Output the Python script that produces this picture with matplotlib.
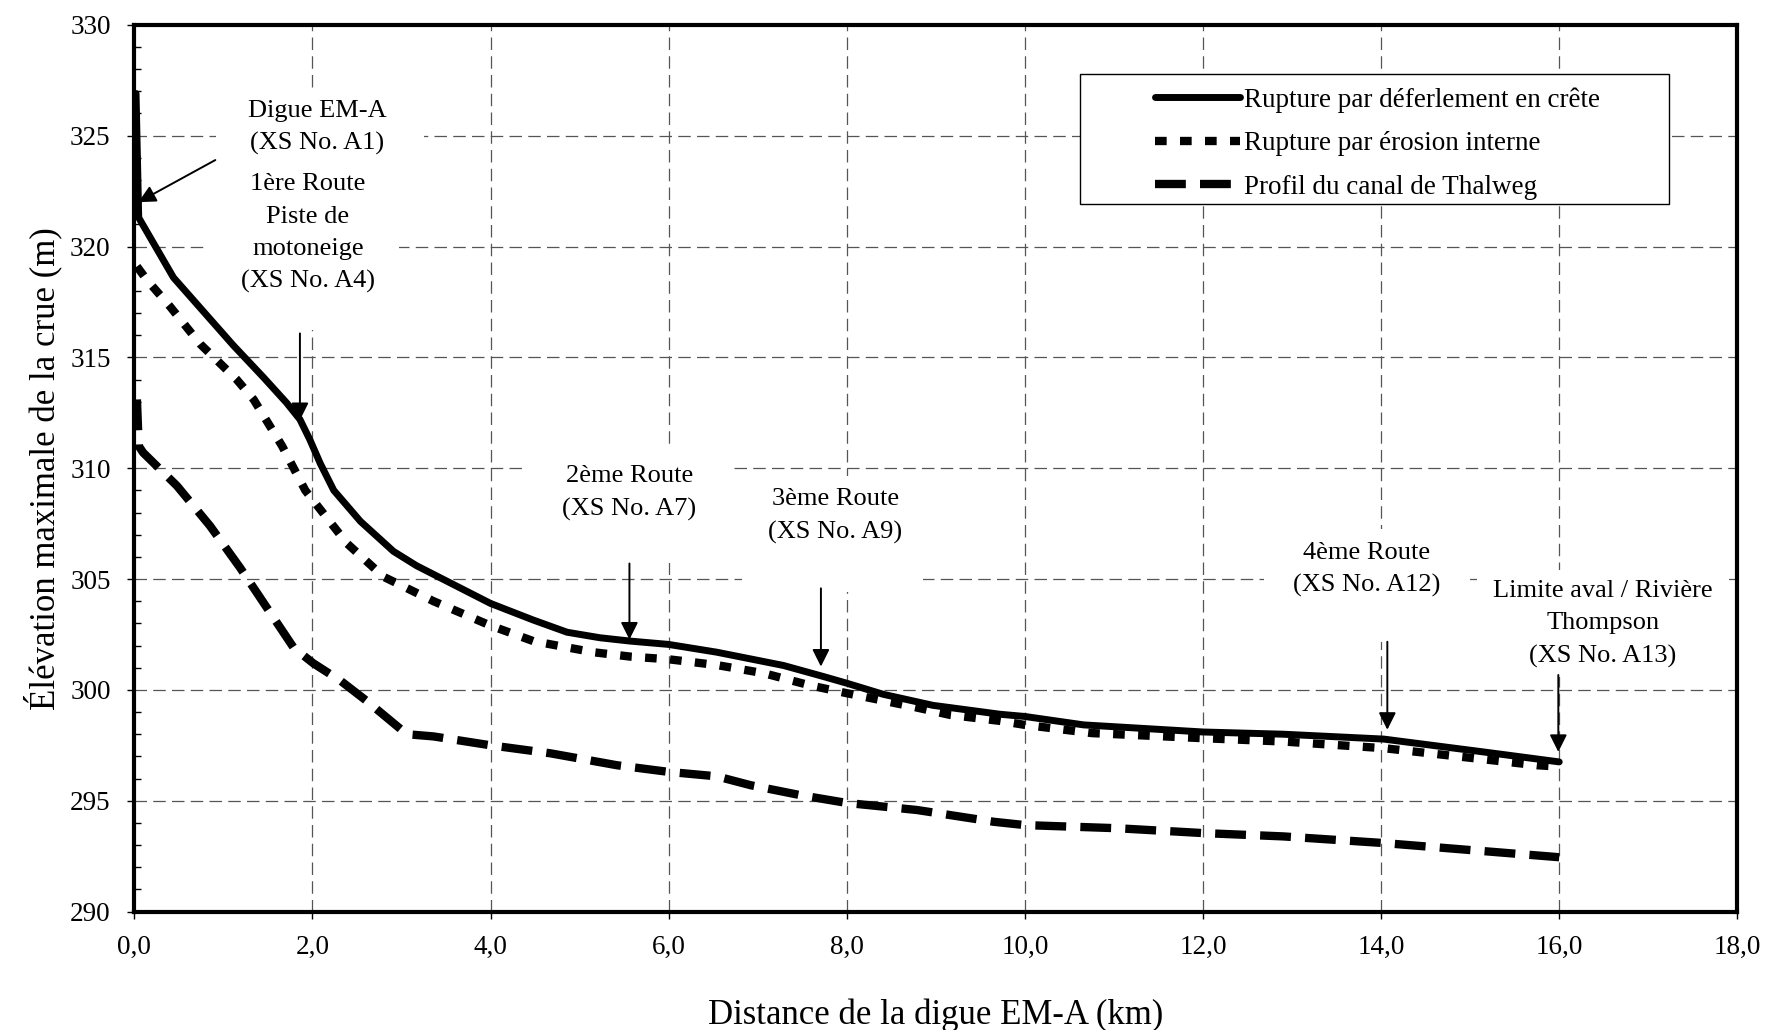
import matplotlib
matplotlib.use("Agg")
import matplotlib.pyplot as plt
from matplotlib.patches import Rectangle
from matplotlib.path import Path
from matplotlib.ticker import MultipleLocator, FuncFormatter

plt.rcParams['font.family'] = ['Liberation Serif', 'DejaVu Serif']

# --- Data: distance from the EM-A dike (km) and maximum flood elevation (m) ---
x_deferlement = [0.02, 0.05, 0.44, 1.11, 1.45, 1.71, 1.86, 1.97, 2.09, 2.24, 2.54, 2.91, 3.17,
                 4.00, 4.48, 4.86, 5.23, 5.57, 6.00, 6.54, 7.29, 7.74, 8.00, 8.41,
                 8.97, 9.16, 9.72, 10.00, 10.66, 12.00, 12.90, 14.03, 15.15, 16.00]
y_deferlement = [326.9, 321.3, 318.6, 315.55, 314.1, 312.95, 312.2, 311.3, 310.2, 309.0, 307.6, 306.25, 305.6,
                 303.9, 303.15, 302.6, 302.35, 302.2, 302.05, 301.7, 301.1, 300.6, 300.3, 299.8,
                 299.3, 299.2, 298.9, 298.8, 298.42, 298.1, 298.0, 297.78, 297.2, 296.75]

x_erosion = [0.03, 0.14, 0.40, 0.74, 1.15, 1.34, 1.66, 1.92, 2.39, 2.80, 3.36, 4.00,
             4.48, 5.15, 5.57, 6.00, 6.54, 7.07, 7.59, 8.00, 8.79, 9.16, 9.72, 10.00,
             10.75, 12.00, 12.90, 14.03, 15.75, 15.95]
y_erosion = [319.1, 318.5, 317.3, 315.6, 314.0, 313.1, 311.0, 309.0, 306.6, 305.1, 304.0, 302.9,
             302.2, 301.7, 301.5, 301.38, 301.12, 300.75, 300.2, 299.85, 299.2, 298.87, 298.6, 298.42,
             298.05, 297.82, 297.67, 297.37, 296.6, 296.55]

x_thalweg = [0.03, 0.05, 0.10, 0.48, 0.85, 1.19, 1.49, 1.79, 2.01, 2.32, 2.61, 3.06,
             3.36, 4.00, 4.67, 5.42, 6.00, 6.54, 6.92, 7.48, 8.00, 8.79, 9.65, 10.00,
             11.03, 12.00, 12.90, 14.03, 16.00]
y_thalweg = [313.1, 311.0, 310.7, 309.2, 307.4, 305.5, 303.7, 301.9, 301.2, 300.4, 299.5, 298.0,
             297.9, 297.5, 297.14, 296.6, 296.3, 296.1, 295.7, 295.25, 294.9, 294.58, 294.05, 293.9,
             293.76, 293.54, 293.39, 293.09, 292.45]

series_labels = ["Rupture par déferlement en crête",
                 "Rupture par érosion interne",
                 "Profil du canal de Thalweg"]

# Cross-section annotations: text, text anchor (x, top y), arrow tail, arrow tip
annot_texts = ["Digue EM-A\n(XS No. A1)",
               "1ère Route\nPiste de\nmotoneige\n(XS No. A4)",
               "2ème Route\n(XS No. A7)",
               "3ème Route\n(XS No. A9)",
               "4ème Route\n(XS No. A12)",
               "Limite aval / Rivière\nThompson\n(XS No. A13)"]
annot_xy = [(2.055, 326.63), (1.95, 323.30), (5.56, 310.14),
            (7.87, 309.09), (13.84, 306.68), (16.49, 304.96)]

arrow_tails = [(0.91, 323.9), (1.86, 316.08), (5.56, 305.7),
               (7.71, 304.58), (14.07, 302.17), (15.99, 300.67)]
arrow_tips = [(0.046, 322.0), (1.86, 312.17), (5.56, 302.27),
              (7.71, 301.05), (14.07, 298.2), (15.99, 297.2)]

x_ticks = [0, 2, 4, 6, 8, 10, 12, 14, 16, 18]
y_ticks = [290, 295, 300, 305, 310, 315, 320, 325, 330]


def padded_box(left, right, top, bottom):
    """White label box with separate padding on each side (in font-size units)."""
    def style(x0, y0, width, height, mutation_size):
        l = left * mutation_size
        r = right * mutation_size
        t = top * mutation_size
        b = bottom * mutation_size
        xa, xb = x0 - l, x0 + width + r
        ya, yb = y0 - b, y0 + height + t
        return Path([(xa, ya), (xb, ya), (xb, yb), (xa, yb), (xa, ya)], closed=True)
    return style


box_pads = [(1.2, 1.4, 0.4, 0.3), (1.3, 0.9, 0.3, 1.4), (1.3, 1.3, 0.7, 1.6),
            (1.0, 0.8, 0.5, 1.8), (1.1, 1.1, 0.5, 1.7), (0.6, 0.6, 0.4, 0.35)]

fig = plt.figure(figsize=(17.69, 10.30), dpi=100)
ax = fig.add_axes([0.0759, 0.1150, 0.9062, 0.8609])

ax.plot(x_thalweg, y_thalweg, color='black', lw=6, linestyle=(0, (3.7, 1.7)),
        dash_capstyle='butt', zorder=3, label=series_labels[2])
ax.plot(x_erosion, y_erosion, color='black', lw=6, linestyle=(0, (1.4, 1.6)),
        dash_capstyle='butt', zorder=3, label=series_labels[1])
ax.plot(x_deferlement, y_deferlement, color='black', lw=5, solid_capstyle='round',
        solid_joinstyle='round', zorder=4, label=series_labels[0])

ax.set_xlim(0, 18)
ax.set_ylim(290, 330)
ax.xaxis.set_major_locator(MultipleLocator(2))
ax.yaxis.set_major_locator(MultipleLocator(5))
ax.yaxis.set_minor_locator(MultipleLocator(1))
ax.set_xticks(x_ticks)
ax.set_yticks(y_ticks)
ax.xaxis.set_major_formatter(FuncFormatter(lambda v, p: f"{v:.1f}".replace('.', ',')))
ax.yaxis.set_major_formatter(FuncFormatter(lambda v, p: f"{v:.0f}"))

ax.tick_params(axis='both', which='major', direction='out', length=5, width=1,
               labelsize=19.5, color='black')
ax.tick_params(axis='x', which='major', pad=12)
ax.tick_params(axis='y', which='major', pad=12)
ax.tick_params(axis='y', which='minor', direction='in', length=5, width=1, color='black')

for sp in ax.spines.values():
    sp.set_linewidth(3)
    sp.set_color('black')

ax.set_axisbelow(True)
ax.grid(True, which='major', color='#555555', lw=0.9, linestyle=(0, (10, 5)))

ax.set_xlabel("Distance de la digue EM-A (km)", fontsize=25)
ax.xaxis.set_label_coords(0.5, -0.098)
ax.set_ylabel("Élévation maximale de la crue (m)", fontsize=25)
ax.yaxis.set_label_coords(-0.045, 0.5)

# Cross-section labels and arrows
for txt, (tx, ty), pads in zip(annot_texts, annot_xy, box_pads):
    ax.text(tx, ty, txt, ha='center', va='top', multialignment='center',
            fontsize=19, linespacing=1.6, zorder=2.5,
            bbox=dict(boxstyle=padded_box(*pads), facecolor='white', edgecolor='none'))

for tail, tip in zip(arrow_tails, arrow_tips):
    ax.annotate("", xy=tip, xytext=tail,
                arrowprops=dict(arrowstyle='-|>', color='black', lw=1.4,
                                mutation_scale=26, shrinkA=0, shrinkB=0),
                zorder=5)

# Legend box
ax.add_patch(Rectangle((0.590, 0.7979), 0.3675, 0.1466, transform=ax.transAxes,
                       facecolor='white', edgecolor='black', lw=1.0, zorder=4.5))
handles, labels = ax.get_legend_handles_labels()
order = [2, 1, 0]
leg = ax.legend([handles[i] for i in order], [labels[i] for i in order],
                loc='center left', bbox_to_anchor=(0.6368, 0.866),
                frameon=False, borderpad=0, borderaxespad=0, fontsize=19.5,
                handlelength=3.14, handletextpad=0.15, labelspacing=0.68)
leg.set_zorder(6)

fig.savefig("out.png", dpi=100)
